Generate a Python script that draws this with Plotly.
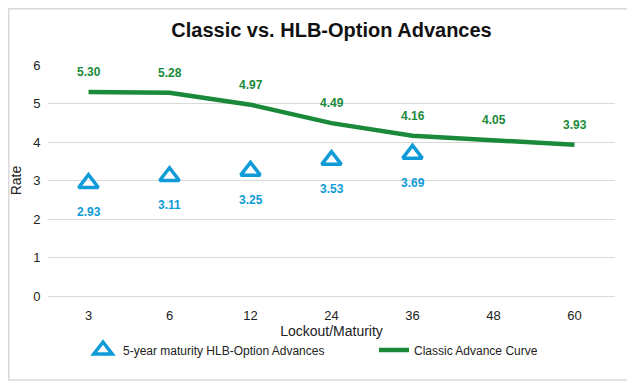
import plotly.graph_objects as go

categories = ["3", "6", "12", "24", "36", "48", "60"]
classic_values = [5.30, 5.28, 4.97, 4.49, 4.16, 4.05, 3.93]
hlb_categories = ["3", "6", "12", "24", "36"]
hlb_values = [2.93, 3.11, 3.25, 3.53, 3.69]
y_ticks = [0, 1, 2, 3, 4, 5, 6]

FONT = "Liberation Sans, Arial, sans-serif"
GREEN = "#1a8a3a"
BLUE = "#0f9bd7"

# page body has an 8px margin, so the figure is drawn 8px smaller and offset
W, H = 627, 375
L, T, PW, PH = 40, 57, 567, 231


def px(fx):
    return (fx - L) / PW


def py(fy):
    return (T + PH - fy) / PH


fig = go.Figure()
fig.add_trace(go.Scatter(
    x=hlb_categories, y=hlb_values, mode="markers",
    name="5-year maturity HLB-Option Advances", legend="legend",
    marker=dict(symbol="triangle-up-open", size=17, color=BLUE, line=dict(width=3.5, color=BLUE)),
))
fig.add_trace(go.Scatter(
    x=categories, y=classic_values, mode="lines",
    name="Classic Advance Curve", legend="legend2",
    line=dict(color=GREEN, width=4.5),
))

for c, v in zip(categories, classic_values):
    fig.add_annotation(x=categories.index(c), y=v, text=f"<b>{v:.2f}</b>", showarrow=False,
                       yshift=20, font=dict(family=FONT, size=12, color=GREEN))
for c, v in zip(hlb_categories, hlb_values):
    fig.add_annotation(x=categories.index(c), y=v, text=f"<b>{v:.2f}</b>", showarrow=False,
                       yshift=-29, font=dict(family=FONT, size=12, color=BLUE))

fig.add_shape(type="rect", xref="paper", yref="paper",
              x0=px(0.8), x1=px(623), y0=py(372), y1=py(0.8),
              line=dict(color="#d9d9d9", width=1.5), fillcolor="rgba(0,0,0,0)", layer="below")

legend_common = dict(orientation="h", xanchor="left", yanchor="middle",
                     font=dict(family=FONT, size=12, color="#222"),
                     bgcolor="rgba(0,0,0,0)", itemwidth=30)

fig.update_layout(
    width=W, height=H,
    margin=dict(l=L, r=W - L - PW, t=T, b=H - T - PH),
    paper_bgcolor="white", plot_bgcolor="white",
    font=dict(family=FONT, size=13, color="#222"),
    title=dict(text="<b>Classic vs. HLB-Option Advances</b>", x=0.5, xanchor="center",
               xref="paper", y=1 - 22 / H, yanchor="middle",
               font=dict(family=FONT, size=20, color="#111")),
    xaxis=dict(type="category", categoryorder="array", categoryarray=categories,
               showgrid=False, showline=False, ticks="outside", ticklen=7,
               tickcolor="rgba(0,0,0,0)", tickfont=dict(size=13, color="#222"),
               title=dict(text="Lockout/Maturity", font=dict(size=14, color="#222"), standoff=0),
               range=[-0.5, 6.5], automargin=False),
    yaxis=dict(range=[0, 6], tickvals=y_ticks, showgrid=True, gridcolor="#d9d9d9", gridwidth=1,
               zeroline=True, zerolinecolor="#d9d9d9", zerolinewidth=1,
               tickfont=dict(size=13, color="#222"), ticks="outside", ticklen=4,
               tickcolor="rgba(0,0,0,0)",
               title=dict(text="Rate", font=dict(size=14, color="#222"), standoff=18),
               automargin=False),
    legend=dict(x=px(95 - 20), y=py(342), **legend_common),
    legend2=dict(x=px(386 - 20), y=py(342), **legend_common),
    showlegend=True,
)

fig.write_html("out.html")
